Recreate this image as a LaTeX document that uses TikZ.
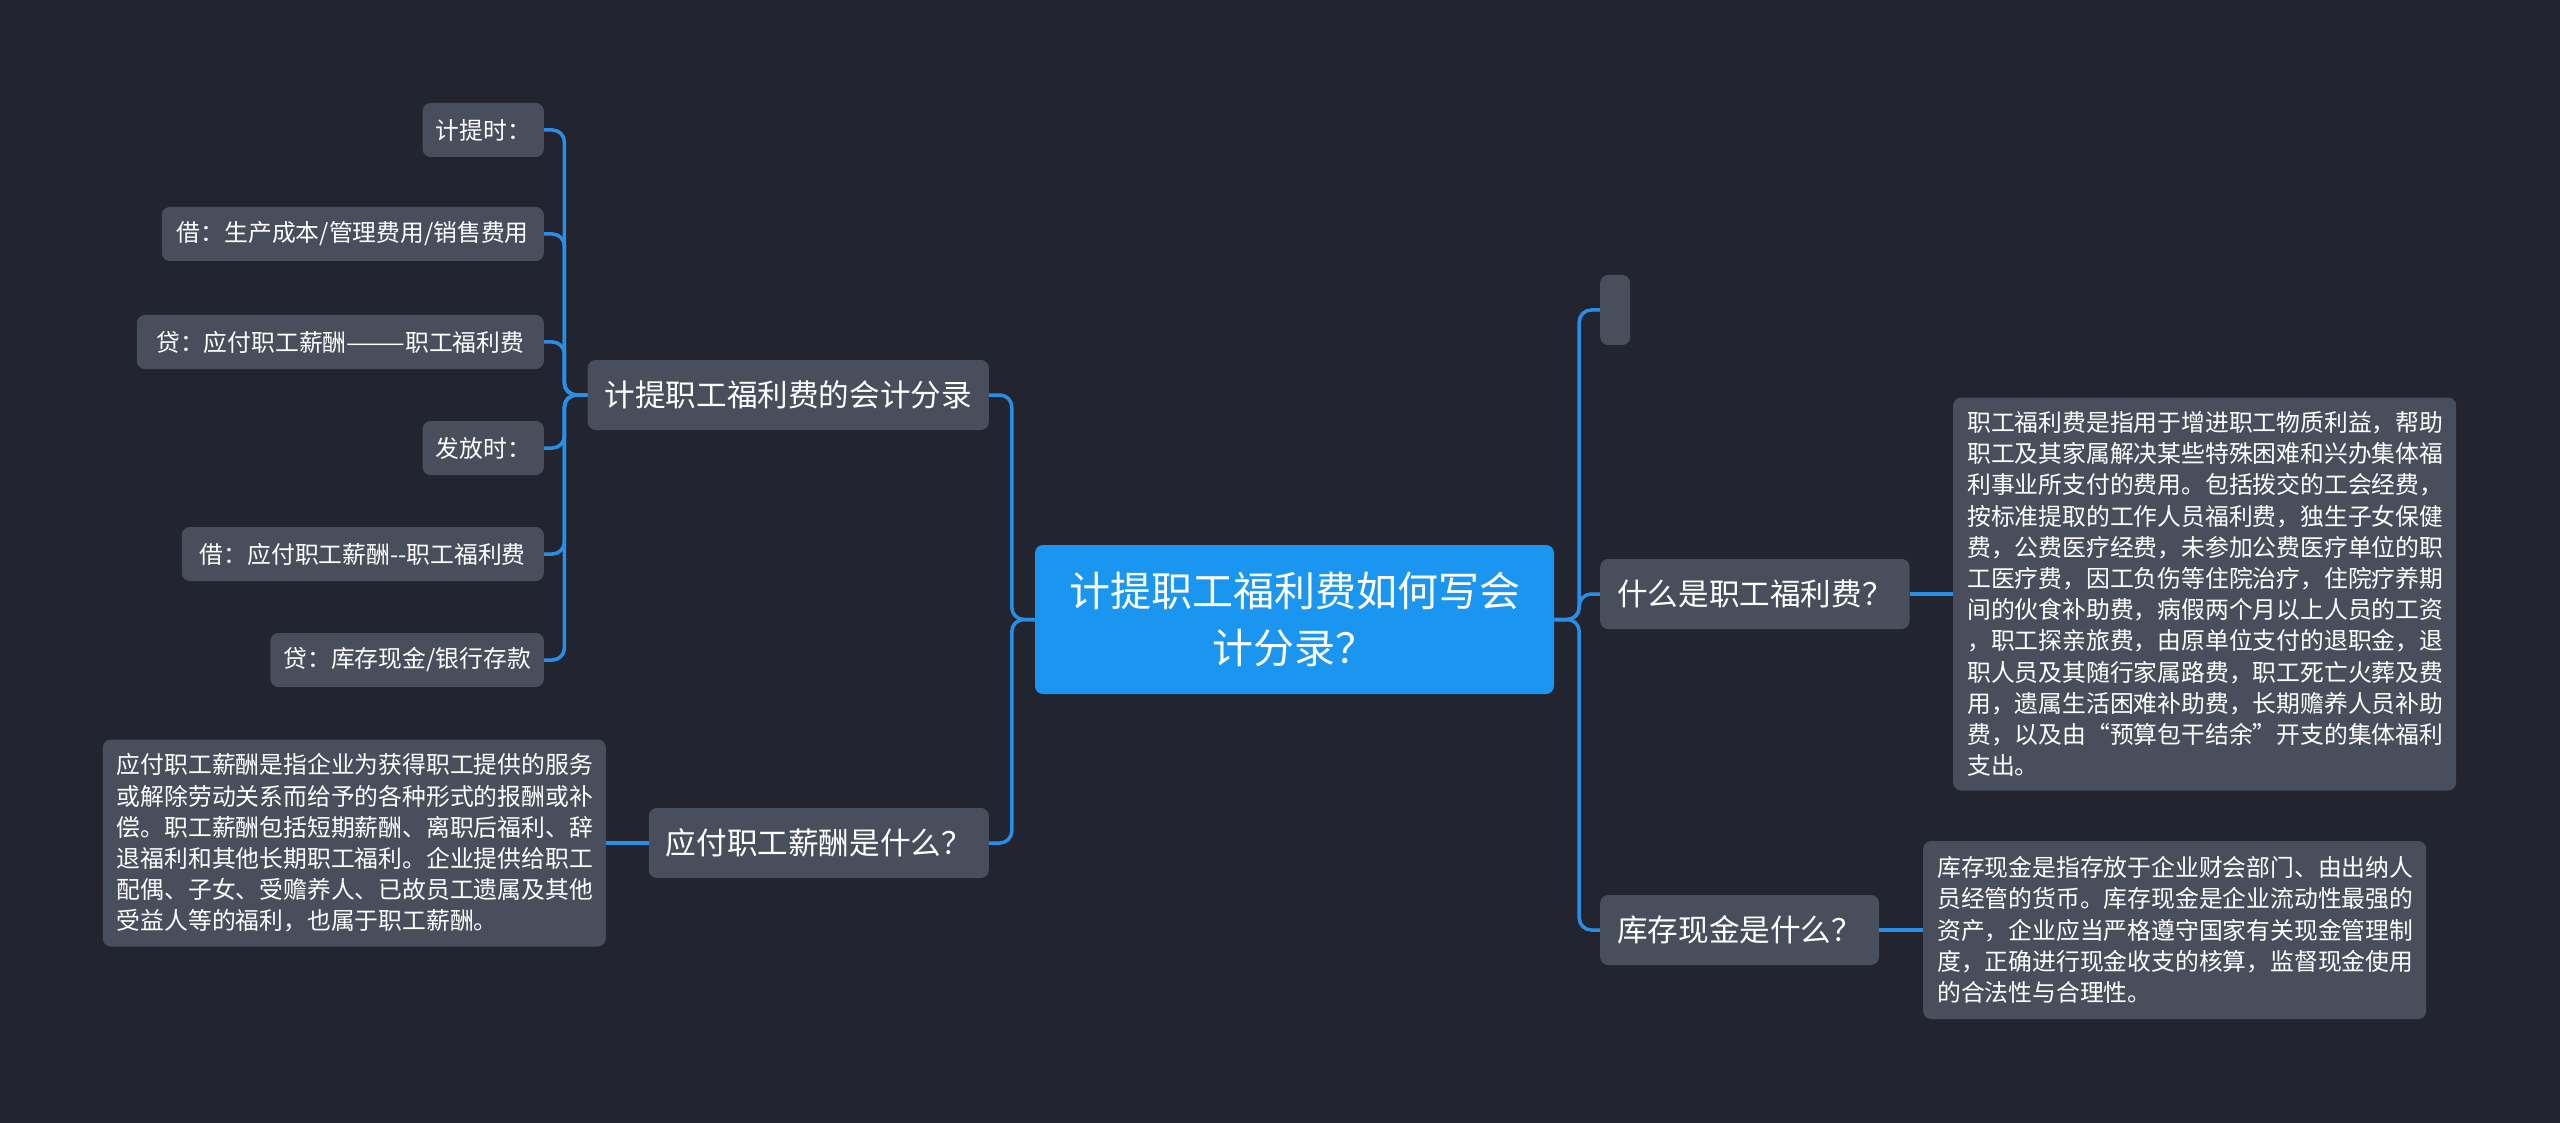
\documentclass[tikz,border=0pt]{standalone}
\usepackage{fontspec}
\setmainfont{Noto Sans CJK SC}
\usetikzlibrary{calc}
\definecolor{bg}{HTML}{22252F}
\definecolor{nodegray}{HTML}{484E5C}
\definecolor{rootblue}{HTML}{1A95F0}
\definecolor{linkblue}{HTML}{2A8FE4}

\begin{document}
\begin{tikzpicture}[x=1pt,y=-1pt]
\tikzset{
  box/.style={fill=nodegray, text=white, rounded corners=8pt, inner sep=0pt},
  leaf/.style={box, font=\fontsize{23.8}{28}\selectfont, minimum height=54pt, inner xsep=13pt, anchor=east},
  branch/.style={box, font=\fontsize{30.6}{36}\selectfont, minimum height=70pt, inner xsep=17pt},
  desc/.style={box, align=left, text width=475pt, inner xsep=14pt, font=\fontsize{23.8}{31.2}\selectfont},
  link/.style={draw=linkblue, line width=3.5pt, rounded corners=12pt},
}

  % background, also the bounding box
  \fill[bg] (0,0) rectangle (2560,1123);

  \node[box, fill=rootblue, minimum width=519pt, minimum height=149pt, align=center,
        font=\fontsize{41}{57}\selectfont] (root) at (1294.5,619.5)
        {计提职工福利费如何写会\\计分录？};

  % left side
  \node[branch, anchor=east] (jt) at (989,395) {计提职工福利费的会计分录};
  \node[branch, anchor=east] (yf) at (989,843) {应付职工薪酬是什么？};

  \node[leaf] (k1) at (544,130) {计提时：};
  \node[leaf, minimum width=382pt] (k2) at (544,234) {借：生产成本/管理费用/销售费用};
  \node[leaf, minimum width=407pt] (k3) at (544,342) {贷：应付职工薪酬———职工福利费};
  \node[leaf] (k4) at (544,448) {发放时：};
  \node[leaf, minimum width=362pt] (k5) at (544,554) {借：应付职工薪酬-{}-职工福利费};
  \node[leaf] (k6) at (544,660) {贷：库存现金/银行存款};

  \node[desc, anchor=east, minimum height=207pt] (yfd) at (606,843)
    {应付职工薪酬是指企业为获得职工提供的服务\\
     或解除劳动关系而给予的各种形式的报酬或补\\
     偿。职工薪酬包括短期薪酬、离职后福利、辞\\
     退福利和其他长期职工福利。企业提供给职工\\
     配偶、子女、受赡养人、已故员工遗属及其他\\
     受益人等的福利，也属于职工薪酬。};

  % right side
  \node[box, minimum width=30pt, minimum height=70pt, anchor=west] (blank) at (1600,310) {};
  \node[branch, anchor=west] (zg) at (1600,594) {什么是职工福利费？};
  \node[branch, anchor=west] (kc) at (1600,930) {库存现金是什么？};

  \node[desc, anchor=west, minimum height=393pt] (zgd) at (1953,594)
    {职工福利费是指用于增进职工物质利益，帮助\\
     职工及其家属解决某些特殊困难和兴办集体福\\
     利事业所支付的费用。包括拨交的工会经费，\\
     按标准提取的工作人员福利费，独生子女保健\\
     费，公费医疗经费，未参加公费医疗单位的职\\
     工医疗费，因工负伤等住院治疗，住院疗养期\\
     间的伙食补助费，病假两个月以上人员的工资\\
     ，职工探亲旅费，由原单位支付的退职金，退\\
     职人员及其随行家属路费，职工死亡火葬及费\\
     用，遗属生活困难补助费，长期赡养人员补助\\
     费，以及由“预算包干结余”开支的集体福利\\
     支出。};

  \node[desc, anchor=west, minimum height=178pt] (kcd) at (1923,930)
    {库存现金是指存放于企业财会部门、由出纳人\\
     员经管的货币。库存现金是企业流动性最强的\\
     资产，企业应当严格遵守国家有关现金管理制\\
     度，正确进行现金收支的核算，监督现金使用\\
     的合法性与合理性。};

  % connectors
  \draw[link] (root.west) -- ++(-23,0) |- (jt.east);
  \draw[link] (root.west) -- ++(-23,0) |- (yf.east);
  \foreach \k in {k1,k2,k3,k4,k5,k6}
    \draw[link] (jt.west) -- ++(-23,0) |- (\k.east);
  \draw[link] (yf.west) -- (yfd.east);

  \foreach \r in {blank,zg,kc}
    \draw[link] (root.east) -- ++(25,0) |- (\r.west);
  \draw[link] (zg.east) -- (zgd.west);
  \draw[link] (kc.east) -- (kcd.west);
\end{tikzpicture}
\end{document}
